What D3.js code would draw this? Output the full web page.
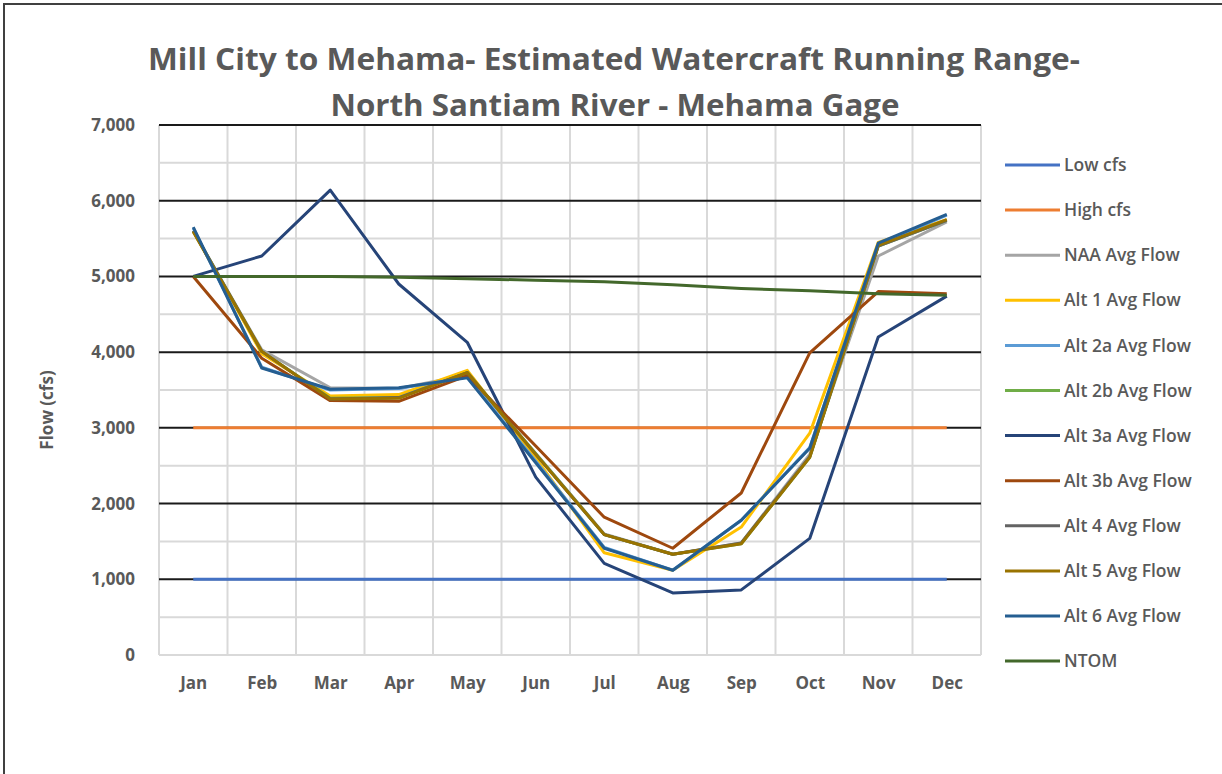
<!DOCTYPE html>
<html>
<head>
<meta charset="utf-8">
<script src="https://cdn.jsdelivr.net/npm/d3@7"></script>
<style>
  body { margin: 0; background: #fff; }
  svg { display: block; }
  text { font-family: "Open Sans", "Liberation Sans", sans-serif; }
</style>
</head>
<body>
<div id="chart"></div>
<script>
// data
var months = ["Jan", "Feb", "Mar", "Apr", "May", "Jun", "Jul", "Aug", "Sep", "Oct", "Nov", "Dec"];
var yTicks = [0, 1000, 2000, 3000, 4000, 5000, 6000, 7000];

var lowCfs  = [1000, 1000, 1000, 1000, 1000, 1000, 1000, 1000, 1000, 1000, 1000, 1000];
var highCfs = [3000, 3000, 3000, 3000, 3000, 3000, 3000, 3000, 3000, 3000, 3000, 3000];
var naaFlow  = [5600, 4030, 3530, 3520, 3700, 2660, 1600, 1330, 1480, 2650, 5270, 5720];
var alt1Flow = [5600, 3980, 3420, 3440, 3760, 2600, 1350, 1120, 1690, 2930, 5450, 5750];
var alt2aFlow = [5640, 3800, 3500, 3520, 3670, 2560, 1420, 1120, 1780, 2740, 5420, 5810];
var alt2bFlow = [5600, 4010, 3390, 3400, 3730, 2660, 1590, 1330, 1470, 2610, 5400, 5740];
var alt3aFlow = [5000, 5270, 6140, 4900, 4130, 2350, 1210, 820, 860, 1540, 4200, 4740];
var alt3bFlow = [5000, 3920, 3360, 3350, 3690, 2760, 1820, 1410, 2140, 3990, 4800, 4770];
var alt4Flow = [5600, 4010, 3380, 3400, 3730, 2650, 1590, 1330, 1480, 2620, 5400, 5740];
var alt5Flow = [5590, 4010, 3380, 3390, 3730, 2650, 1590, 1330, 1470, 2610, 5410, 5750];
var alt6Flow = [5650, 3790, 3510, 3530, 3660, 2540, 1410, 1120, 1780, 2730, 5440, 5820];
var ntomFlow = [5000, 5000, 5000, 4990, 4970, 4950, 4930, 4890, 4840, 4810, 4770, 4750];

var series = [
  {name: "Low cfs", color: "#4472C4", values: lowCfs},
  {name: "High cfs", color: "#ED7D31", values: highCfs},
  {name: "NAA Avg Flow", color: "#A5A5A5", values: naaFlow},
  {name: "Alt 1 Avg Flow", color: "#FFC000", values: alt1Flow},
  {name: "Alt 2a Avg Flow", color: "#5B9BD5", values: alt2aFlow},
  {name: "Alt 2b Avg Flow", color: "#70AD47", values: alt2bFlow},
  {name: "Alt 3a Avg Flow", color: "#264478", values: alt3aFlow},
  {name: "Alt 3b Avg Flow", color: "#9E480E", values: alt3bFlow},
  {name: "Alt 4 Avg Flow", color: "#636363", values: alt4Flow},
  {name: "Alt 5 Avg Flow", color: "#997300", values: alt5Flow},
  {name: "Alt 6 Avg Flow", color: "#255E91", values: alt6Flow},
  {name: "NTOM", color: "#43682B", values: ntomFlow}
];

var width = 1222, height = 774;
var plot = {left: 159, right: 981, top: 125, bottom: 655};

var svg = d3.select("#chart").append("svg")
  .attr("width", width).attr("height", height);

// outer chart frame (only left and top edges fall inside the picture)
svg.append("rect")
  .attr("x", 4).attr("y", 4)
  .attr("width", width + 10).attr("height", height + 10)
  .attr("fill", "none").attr("stroke", "#404040").attr("stroke-width", 2);

var x = d3.scalePoint().domain(months).range([plot.left, plot.right]).padding(0.5);
var xBand = d3.scaleBand().domain(months).range([plot.left, plot.right]);
var y = d3.scaleLinear().domain([0, 7000]).range([plot.bottom, plot.top]);

// title
var title = svg.append("g").attr("fill", "#595959").attr("font-weight", 700)
  .attr("font-size", 31).attr("text-anchor", "middle");
title.append("text").attr("x", 614).attr("y", 70)
  .attr("textLength", 932).attr("lengthAdjust", "spacingAndGlyphs")
  .text("Mill City to Mehama- Estimated Watercraft Running Range-");
title.append("text").attr("x", 615).attr("y", 116)
  .attr("textLength", 569).attr("lengthAdjust", "spacingAndGlyphs")
  .text("North Santiam River - Mehama Gage");

// grid
var grid = svg.append("g");
var minor = d3.range(500, 7000, 1000);
grid.selectAll(".minor").data(minor).enter().append("line")
  .attr("x1", plot.left).attr("x2", plot.right)
  .attr("y1", function(d) { return y(d); }).attr("y2", function(d) { return y(d); })
  .attr("stroke", "#d9d9d9").attr("stroke-width", 2);
var edges = months.map(function(m) { return xBand(m); }).concat([plot.right]);
grid.selectAll(".vert").data(edges).enter().append("line")
  .attr("x1", function(d) { return d; }).attr("x2", function(d) { return d; })
  .attr("y1", plot.top).attr("y2", plot.bottom)
  .attr("stroke", "#d9d9d9").attr("stroke-width", 2);
grid.selectAll(".major").data(yTicks.filter(function(d) { return d > 0; })).enter().append("line")
  .attr("x1", plot.left).attr("x2", plot.right)
  .attr("y1", function(d) { return y(d); }).attr("y2", function(d) { return y(d); })
  .attr("stroke", "#1a1a1a").attr("stroke-width", 2);
grid.append("line")
  .attr("x1", plot.left).attr("x2", plot.right)
  .attr("y1", y(0)).attr("y2", y(0))
  .attr("stroke", "#d9d9d9").attr("stroke-width", 2);

// axes
var yAxis = svg.append("g").attr("transform", "translate(" + plot.left + ",0)")
  .call(d3.axisLeft(y).tickValues(yTicks).tickSize(0).tickPadding(24)
    .tickFormat(function(d) { return d === 0 ? "0" : d3.format(",")(d); }));
yAxis.select(".domain").remove();
yAxis.selectAll("text").attr("font-size", 17).attr("font-weight", 700)
  .attr("fill", "#595959").attr("font-family", "Open Sans");

var xAxis = svg.append("g").attr("transform", "translate(0," + plot.bottom + ")")
  .call(d3.axisBottom(x).tickSize(0).tickPadding(22));
xAxis.select(".domain").remove();
xAxis.selectAll("text").attr("font-size", 17).attr("font-weight", 700)
  .attr("fill", "#595959").attr("font-family", "Open Sans");

svg.append("text")
  .attr("transform", "translate(53,410) rotate(-90)")
  .attr("text-anchor", "middle").attr("font-size", 17).attr("font-weight", 700)
  .attr("fill", "#595959").text("Flow (cfs)");

// lines
var line = d3.line()
  .x(function(d, i) { return x(months[i]); })
  .y(function(d) { return y(d); });

svg.append("g").selectAll("path").data(series).enter().append("path")
  .attr("d", function(s) { return line(s.values); })
  .attr("fill", "none")
  .attr("stroke", function(s) { return s.color; })
  .attr("stroke-width", 3)
  .attr("stroke-linejoin", "round");

// legend
var legend = svg.append("g").selectAll("g").data(series).enter().append("g")
  .attr("transform", function(s, i) { return "translate(1005," + (165 + i * 45.1) + ")"; });
legend.append("line").attr("x1", 0).attr("x2", 55)
  .attr("stroke", function(s) { return s.color; }).attr("stroke-width", 3);
legend.append("text").attr("x", 59).attr("dy", "0.35em")
  .attr("font-size", 17.5).attr("font-weight", 600).attr("fill", "#595959")
  .text(function(s) { return s.name; });
</script>
</body>
</html>
